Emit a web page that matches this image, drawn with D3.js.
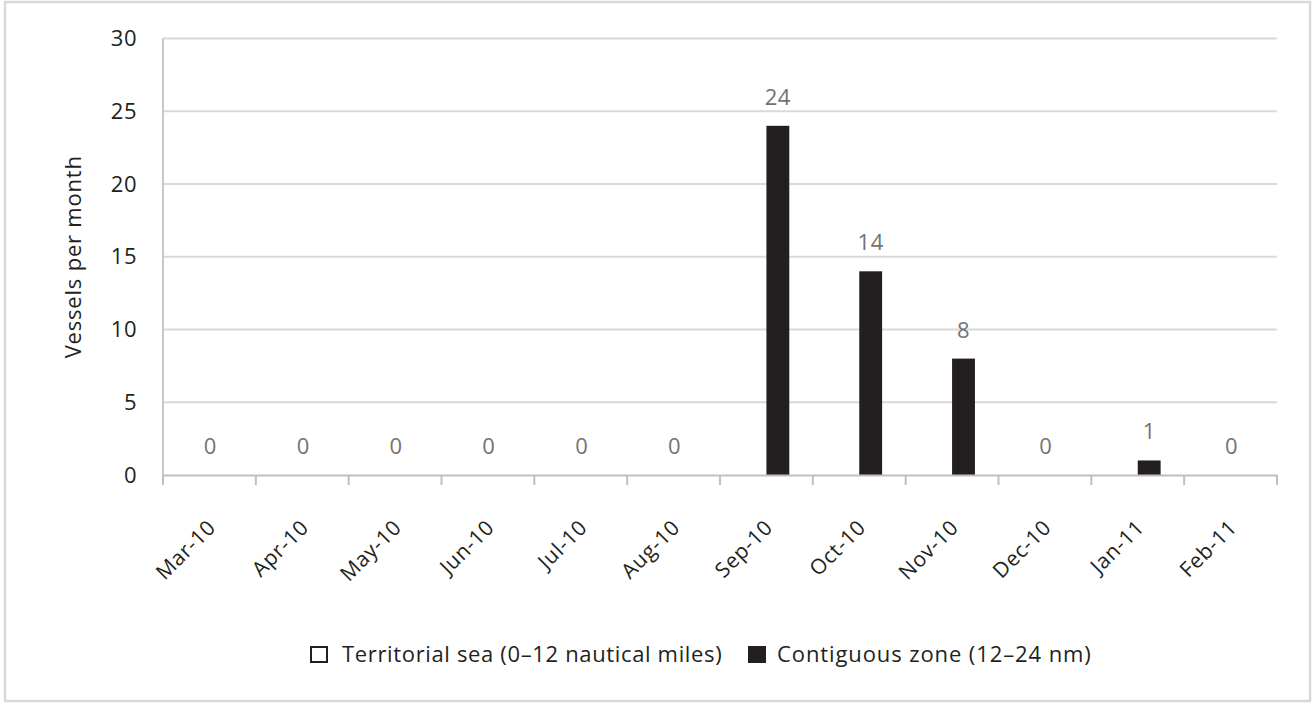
<!DOCTYPE html>
<html>
<head>
<meta charset="utf-8">
<script src="https://cdn.jsdelivr.net/npm/d3@7"></script>
<style>
  html, body { margin: 0; padding: 0; background: #fff; }
  svg { display: block; font-family: "Open Sans", Lato, sans-serif; }
</style>
</head>
<body>
<svg id="chart" width="1314" height="704"></svg>
<script>
// ---- data ----
const months = ["Mar-10","Apr-10","May-10","Jun-10","Jul-10","Aug-10","Sep-10","Oct-10","Nov-10","Dec-10","Jan-11","Feb-11"];
const territorialSea = [0,0,0,0,0,0,0,0,0,0,0,0];
const contiguousZone = [0,0,0,0,0,0,24,14,8,0,1,0];
const seriesNames = ["Territorial sea (0\u201312 nautical miles)", "Contiguous zone (12\u201324 nm)"];
const yTicks = [0,5,10,15,20,25,30];
const yTitle = "Vessels per month";

// ---- layout ----
const FONT = "'Open Sans', Lato, sans-serif";
const FS = 22;
const LS = 0.5;
const svg = d3.select("#chart");
const margin = {left: 163, right: 1314 - 1277, top: 38.5, bottom: 704 - 475};
const W = 1314, H = 704;

// outer frame
svg.append("rect").attr("x", 5).attr("y", 2).attr("width", 1305).attr("height", 699)
  .attr("fill", "#fff").attr("stroke", "#d9d9d9").attr("stroke-width", 2.5);

const x = d3.scaleBand().domain(months).range([margin.left, W - margin.right]).paddingInner(0).paddingOuter(0);
const xs = d3.scaleBand().domain(["ter","con"]).range([0, x.bandwidth()]).paddingInner(0).paddingOuter(1.03);
const y = d3.scaleLinear().domain([0, 30]).range([H - margin.bottom, margin.top]);

// gridlines
svg.append("g").selectAll("line").data(yTicks.filter(d => d > 0)).join("line")
  .attr("x1", margin.left).attr("x2", W - margin.right)
  .attr("y1", d => y(d)).attr("y2", d => y(d))
  .attr("stroke", "#d9d9d9").attr("stroke-width", 2);

// y axis line
svg.append("line").attr("x1", margin.left).attr("x2", margin.left)
  .attr("y1", y(30)).attr("y2", y(0)).attr("stroke", "#c8c8c8").attr("stroke-width", 2);

// y tick labels
const yAxis = d3.axisLeft(y).tickValues(yTicks).tickSize(0).tickPadding(26);
const gy = svg.append("g").attr("transform", `translate(${margin.left},0)`).call(yAxis);
gy.select(".domain").remove();
gy.attr("font-family", FONT);
gy.selectAll("text").attr("font-size", FS).attr("letter-spacing", LS).attr("fill", "#231f20");

// y title
svg.append("text").attr("transform", `translate(72,${(y(0)+y(30))/2}) rotate(-90)`)
  .attr("text-anchor", "middle").attr("dominant-baseline", "central")
  .attr("font-size", FS).attr("letter-spacing", 0.8).attr("fill", "#231f20").text(yTitle);

// bars
const rows = months.map((m, i) => ({m, ter: territorialSea[i], con: contiguousZone[i]}));
svg.append("g").selectAll("rect").data(rows).join("rect")
  .attr("x", d => x(d.m) + xs("ter")).attr("width", xs.bandwidth())
  .attr("y", d => y(d.ter)).attr("height", d => y(0) - y(d.ter))
  .attr("fill", "#fff").attr("stroke", "#231f20").attr("stroke-width", d => d.ter > 0 ? 1.5 : 0);
svg.append("g").selectAll("rect").data(rows).join("rect")
  .attr("x", d => x(d.m) + xs("con")).attr("width", xs.bandwidth())
  .attr("y", d => y(d.con)).attr("height", d => y(0) - y(d.con))
  .attr("fill", "#231f20");

// x axis
const xAxis = d3.axisBottom(x).tickSize(0).tickFormat("");
const gx = svg.append("g").attr("transform", `translate(0,${y(0)})`).call(xAxis);
gx.select(".domain").attr("stroke", "#bfbfbf").attr("stroke-width", 2);
// tick marks at category boundaries
const bounds = months.map(m => x(m)).concat([x(months[months.length-1]) + x.bandwidth()]);
svg.append("g").selectAll("line").data(bounds).join("line")
  .attr("x1", d => d).attr("x2", d => d).attr("y1", y(0)).attr("y2", y(0) + 10)
  .attr("stroke", "#bfbfbf").attr("stroke-width", 2);

// x labels
svg.append("g").selectAll("text").data(months).join("text")
  .attr("transform", d => `translate(${x(d) + x.bandwidth()/2 + 2},${y(0) + 48}) rotate(-45)`)
  .attr("text-anchor", "end").attr("dominant-baseline", "central")
  .attr("font-size", FS - 1).attr("letter-spacing", 0.7).attr("fill", "#231f20").text(d => d);

// value labels
svg.append("g").selectAll("text").data(rows).join("text")
  .attr("x", d => d.con > 0 ? x(d.m) + xs("con") + xs.bandwidth()/2 : x(d.m) + x.bandwidth()/2 + 1)
  .attr("y", d => y(d.con) - 30)
  .attr("text-anchor", "middle").attr("dominant-baseline", "central")
  .attr("font-size", FS).attr("letter-spacing", LS).attr("fill", "#767171").text(d => d.con);

// legend
const lg = svg.append("g");
lg.append("rect").attr("x", 311).attr("y", 647).attr("width", 16).attr("height", 15)
  .attr("fill", "#fff").attr("stroke", "#231f20").attr("stroke-width", 2);
lg.append("text").attr("x", 342).attr("y", 662).attr("font-size", FS).attr("letter-spacing", 0.65).attr("fill", "#231f20").text(seriesNames[0]);
lg.append("rect").attr("x", 748).attr("y", 646).attr("width", 18).attr("height", 17).attr("fill", "#231f20");
lg.append("text").attr("x", 777).attr("y", 662).attr("font-size", FS).attr("letter-spacing", 0.9).attr("fill", "#231f20").text(seriesNames[1]);
</script>
</body>
</html>
